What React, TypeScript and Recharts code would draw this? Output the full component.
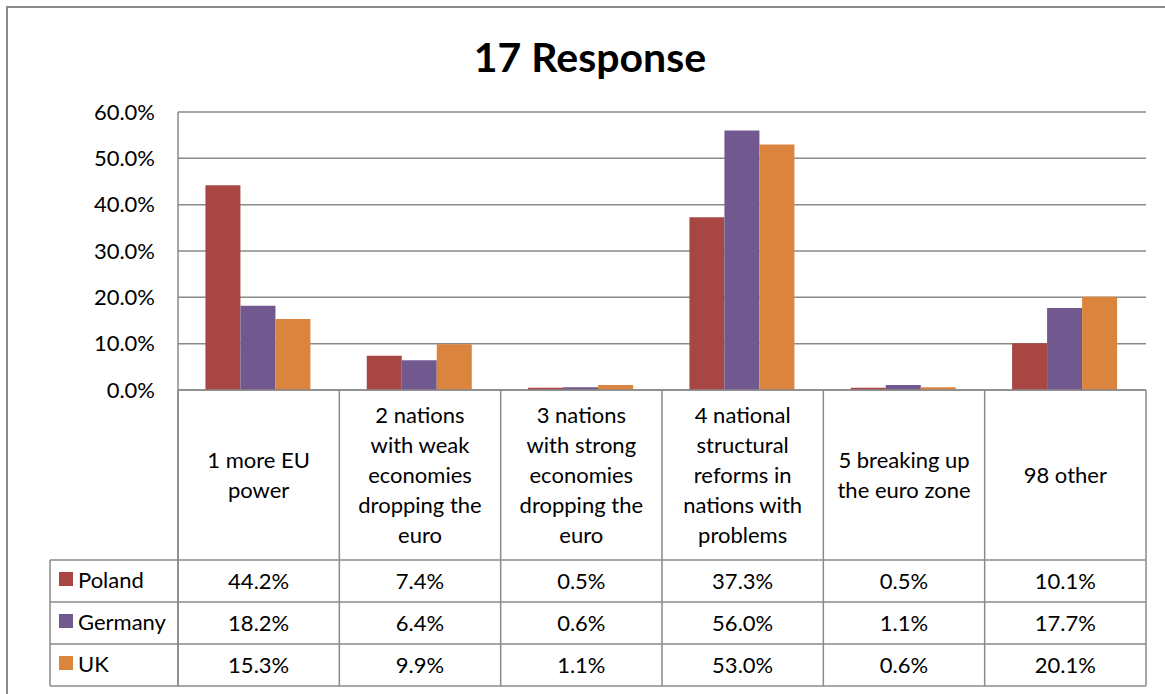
import React from "react";
import { BarChart, Bar, XAxis, YAxis, CartesianGrid } from "recharts";

const categories = [
  "1 more EU power",
  "2 nations with weak economies dropping the euro",
  "3 nations with strong economies dropping the euro",
  "4 national structural reforms in nations with problems",
  "5 breaking up the euro zone",
  "98 other",
];
const categoryLines = [
  ["1 more EU", "power"],
  ["2 nations", "with weak", "economies", "dropping the", "euro"],
  ["3 nations", "with strong", "economies", "dropping the", "euro"],
  ["4 national", "structural", "reforms in", "nations with", "problems"],
  ["5 breaking up", "the euro zone"],
  ["98 other"],
];
const seriesNames = ["Poland", "Germany", "UK"];
const poland = [44.2, 7.4, 0.5, 37.3, 0.5, 10.1];
const germany = [18.2, 6.4, 0.6, 56.0, 1.1, 17.7];
const uk = [15.3, 9.9, 1.1, 53.0, 0.6, 20.1];
const yTicks = [0, 10, 20, 30, 40, 50, 60];
const title = "17 Response";

const colors = ["#A84644", "#71588F", "#DB843D"];
const seriesValues = [poland, germany, uk];

const data = categories.map((c, i) => ({
  name: c,
  Poland: poland[i],
  Germany: germany[i],
  UK: uk[i],
}));

const W = 1165;
const H = 694;
const PLOT_LEFT = 178;
const PLOT_RIGHT = 1146;
const PLOT_TOP = 112;
const AXIS_Y = 390;
const HEADER_BOTTOM = 560;
const ROW_H = 42;
const TABLE_LEFT = 50;
const TABLE_BOTTOM = HEADER_BOTTOM + ROW_H * 3;
const LINE = "#8a8a8a";
const FONT = "Lato, 'Open Sans', sans-serif";
const FS = 22;
const BAND = (PLOT_RIGHT - PLOT_LEFT) / categories.length;

const fmt = (v: number) => `${v.toFixed(1)}%`;

const ColumnTick = (props: any) => {
  const { x, y, payload } = props;
  const i = payload.index;
  const lines = categoryLines[i];
  const lh = 30;
  const centerY = (y + HEADER_BOTTOM) / 2 - 1;
  const firstY = centerY - ((lines.length - 1) * lh) / 2;
  const left = x - BAND / 2;
  const right = x + BAND / 2;
  return (
    <g>
      <line x1={left} x2={left} y1={y} y2={TABLE_BOTTOM} stroke={LINE} strokeWidth={1.5} />
      {i === categories.length - 1 && (
        <line x1={right} x2={right} y1={y} y2={TABLE_BOTTOM} stroke={LINE} strokeWidth={1.5} />
      )}
      {lines.map((l, k) => (
        <text
          key={k}
          x={x}
          y={firstY + k * lh}
          textAnchor="middle"
          dominantBaseline="central"
          fontFamily={FONT}
          fontSize={FS}
          fill="#000"
        >
          {l}
        </text>
      ))}
      {seriesValues.map((arr, r) => (
        <text
          key={"v" + r}
          x={x}
          y={HEADER_BOTTOM + ROW_H * r + ROW_H / 2 - 1}
          textAnchor="middle"
          dominantBaseline="central"
          fontFamily={FONT}
          fontSize={FS}
          fill="#000"
        >
          {fmt(arr[i])}
        </text>
      ))}
    </g>
  );
};

export default function App() {
  return (
    <div style={{ position: "absolute", left: 0, top: 0, width: W, height: H, overflow: "hidden", background: "#fff" }}>
      <BarChart
        width={W}
        height={H}
        data={data}
        margin={{ top: PLOT_TOP, right: W - PLOT_RIGHT, left: PLOT_LEFT - 100, bottom: 8 }}
        barCategoryGap="17%"
        barGap={0}
      >
        <CartesianGrid vertical={false} stroke={LINE} strokeWidth={1.5} />
        <XAxis
          dataKey="name"
          height={H - AXIS_Y - 8}
          interval={0}
          tickLine={false}
          tickSize={0}
          tickMargin={0}
          axisLine={{ stroke: LINE, strokeWidth: 1.5 }}
          tick={<ColumnTick />}
        />
        <YAxis
          width={100}
          domain={[0, 60]}
          ticks={yTicks}
          tickFormatter={fmt}
          tickLine={false}
          tickSize={0}
          tickMargin={23}
          axisLine={{ stroke: LINE, strokeWidth: 1.5 }}
          tick={{ fontFamily: FONT, fontSize: FS, fill: "#000" }}
          allowDataOverflow
        />
        {seriesNames.map((s, k) => (
          <Bar key={s} dataKey={s} fill={colors[k]} isAnimationActive={false} />
        ))}
      </BarChart>
      <svg width={W} height={H} style={{ position: "absolute", left: 0, top: 0, pointerEvents: "none" }}>
        <rect x={7} y={7} width={W + 20} height={H + 20} fill="none" stroke={LINE} strokeWidth={2} />
        <text x={590} y={56} textAnchor="middle" dominantBaseline="central" fontFamily={FONT} fontWeight={700} fontSize={41} fill="#000">
          {title}
        </text>
        <line x1={PLOT_LEFT} x2={PLOT_LEFT} y1={AXIS_Y} y2={TABLE_BOTTOM} stroke={LINE} strokeWidth={1.5} />
        <line x1={TABLE_LEFT} x2={TABLE_LEFT} y1={HEADER_BOTTOM} y2={TABLE_BOTTOM} stroke={LINE} strokeWidth={1.5} />
        {[0, 1, 2, 3].map((r) => (
          <line
            key={r}
            x1={TABLE_LEFT}
            x2={PLOT_RIGHT}
            y1={HEADER_BOTTOM + ROW_H * r}
            y2={HEADER_BOTTOM + ROW_H * r}
            stroke={LINE}
            strokeWidth={1.5}
          />
        ))}
        {seriesNames.map((s, r) => (
          <g key={s}>
            <rect x={59} y={HEADER_BOTTOM + ROW_H * r + 12} width={14} height={14} fill={colors[r]} />
            <text
              x={78}
              y={HEADER_BOTTOM + ROW_H * r + ROW_H / 2 - 2}
              dominantBaseline="central"
              fontFamily={FONT}
              fontSize={FS}
              fill="#000"
            >
              {s}
            </text>
          </g>
        ))}
      </svg>
    </div>
  );
}
